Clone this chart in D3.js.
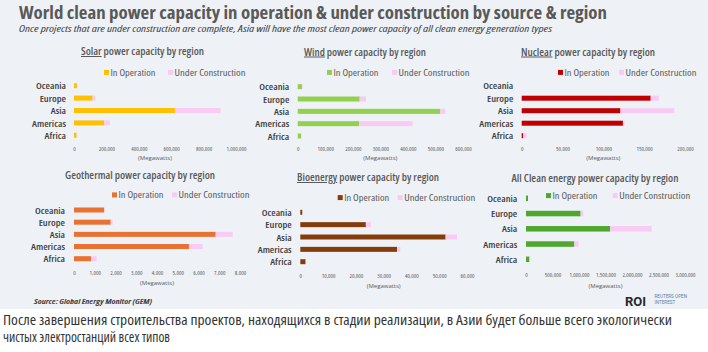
<!DOCTYPE html>
<html><head><meta charset="utf-8">
<script src="https://cdn.jsdelivr.net/npm/d3@7"></script>
<style>
body{margin:0;background:#fff}
svg{display:block}
</style>
</head><body><svg id="c" width="708" height="352"></svg>
<script>
// ---------- DATA ----------
const regions = ["Oceania", "Europe", "Asia", "Americas", "Africa"];
const seriesNames = ["In Operation", "Under Construction"];

const solarOperating      = [18000, 115000, 623000, 187000, 16000];
const solarConstruction   = [1000, 17000, 282000, 35000, 2000];
const windOperating       = [15500, 225000, 517000, 223000, 12000];
const windConstruction    = [2000, 23000, 19000, 194000, 2000];
const nuclearOperating    = [0, 158000, 121000, 124000, 1900];
const nuclearConstruction = [0, 10000, 66000, 2000, 4400];
const geoOperating        = [1450, 1770, 6830, 5540, 820];
const geoConstruction     = [30, 95, 820, 660, 270];
const bioOperating        = [700, 23600, 52300, 34800, 1900];
const bioConstruction     = [0, 1800, 4100, 1200, 100];
const allOperating        = [38000, 1031000, 1585000, 912000, 63000];
const allConstruction     = [0, 51000, 786000, 82000, 5000];

const solarTicks   = [0, 200000, 400000, 600000, 800000, 1000000];
const windTicks    = [0, 100000, 200000, 300000, 400000, 500000, 600000];
const nuclearTicks = [0, 50000, 100000, 150000, 200000];
const geoTicks     = [0, 1000, 2000, 3000, 4000, 5000, 6000, 7000, 8000];
const bioTicks     = [0, 10000, 20000, 30000, 40000, 50000, 60000];
const allTicks     = [0, 500000, 1000000, 1500000, 2000000, 2500000, 3000000];

const panelTitleLead = ["Solar", "Wind", "Nuclear", "Geothermal", "Bioenergy", "All Clean energy"];
const panelTitleRest = " power capacity by region";
const unitLabel = "(Megawatts)";

const mainTitle = "World clean power capacity in operation & under construction by source & region";
const subTitle = "Once projects that are under construction are complete, Asia will have the most clean power capacity of all clean energy generation types";
const sourceText = "Source:  Global Energy Monitor (GEM)";
const captionLines = ["После завершения строительства проектов, находящихся в стадии реализации, в Азии будет больше всего экологически",
                      "чистых электростанций всех типов"];

// ---------- STYLE / LAYOUT ----------
const pink = "#f9cbf4";
const panels = [
  {op: solarOperating, uc: solarConstruction, ticks: solarTicks, color: "#ffc000", underline: true},
  {op: windOperating, uc: windConstruction, ticks: windTicks, color: "#92d050", underline: true},
  {op: nuclearOperating, uc: nuclearConstruction, ticks: nuclearTicks, color: "#c00000", underline: true},
  {op: geoOperating, uc: geoConstruction, ticks: geoTicks, color: "#e97132", underline: false},
  {op: bioOperating, uc: bioConstruction, ticks: bioTicks, color: "#843c0c", underline: true},
  {op: allOperating, uc: allConstruction, ticks: allTicks, color: "#4ea72e", underline: false}
];
const layout = [
  {x0:74, x1:236, yc0:85.7, yc4:135.3, lx:66, tx:142.5, ty:55, tw:123, legY:72.5, leg1:104, leg2:168, tickY:148.5, unitY:157.5, bh:5},
  {x0:297.7, x1:463, yc0:86.7, yc4:136, lx:289.3, tx:365, ty:55.5, tw:122, legY:72.5, leg1:327, leg2:392, tickY:149, unitY:158, bh:5},
  {x0:521.7, x1:685, yc0:85.7, yc4:135.7, lx:513.3, tx:588, ty:55.5, tw:134, legY:72.5, leg1:558, leg2:619, tickY:149, unitY:158, bh:5},
  {x0:74, x1:240, yc0:210, yc4:258.7, lx:65, tx:140, ty:179, tw:150, legY:195, leg1:112, leg2:172, tickY:272.5, unitY:283, bh:5},
  {x0:300.3, x1:467, yc0:212.3, yc4:261.7, lx:291.7, tx:368, ty:181, tw:142, legY:197.7, leg1:337.7, leg2:397.7, tickY:276, unitY:285.5, bh:5},
  {x0:526, x1:685, yc0:198.3, yc4:259.3, lx:517.3, tx:595, ty:181.5, tw:167, legY:195.7, leg1:546, leg2:612.7, tickY:275, unitY:285.5, bh:5.5}
];

const svg = d3.select("#c");

function measure(family, stretch, size, weight, str){
  const t = svg.append("text").attr("font-size", size).attr("font-weight", weight || 400)
    .style("font-family", family).style("font-stretch", stretch).text(str);
  const w = t.node().getComputedTextLength(); t.remove(); return w;
}
const narrowOK = measure("'Open Sans'", "75%", 20, 400, "Americas power capacity by region")
  < 0.92 * measure("'Open Sans'", "100%", 20, 400, "Americas power capacity by region");
const FAM = narrowOK ? "'Open Sans', Roboto, sans-serif" : "Roboto, sans-serif";
const NARROW = narrowOK ? "75%" : "100%";

// category labels: 8.6px, widened so that "Americas" is ~34px wide
const CAT_SIZE = 8.6;
const catScale = 34 / measure(FAM, NARROW, CAT_SIZE, 600, "Americas");

function txt(parent, stretch){
  return parent.append("text").style("font-family", FAM).style("font-stretch", stretch || NARROW);
}
function fitSize(sel, w, maxSize){
  const n = sel.node().getComputedTextLength();
  const fs = +sel.attr("font-size");
  let nfs = fs * w / n;
  if (maxSize) nfs = Math.min(nfs, maxSize);
  sel.attr("font-size", nfs);
  const n2 = sel.node().getComputedTextLength();
  if (Math.abs(n2 - w) > 1.5) sel.attr("textLength", w).attr("lengthAdjust", "spacingAndGlyphs");
  return sel;
}
function fitLen(sel, w){ sel.attr("textLength", w).attr("lengthAdjust", "spacingAndGlyphs"); return sel; }

svg.append("rect").attr("x",0).attr("y",0).attr("width",708).attr("height",309).attr("fill","#eef2f6");

fitLen(txt(svg).attr("x",19).attr("y",19).attr("font-size",17).attr("font-weight",700)
  .attr("fill","#595959").text(mainTitle), 588);
fitLen(txt(svg).attr("x",19).attr("y",31.5).attr("font-size",8.3).attr("font-style","italic")
  .attr("fill","#404040").text(subTitle), 533);

panels.forEach((p, i) => {
  const L = layout[i];
  const g = svg.append("g");
  const x = d3.scaleLinear().domain([0, d3.max(p.ticks)]).range([L.x0, L.x1]);
  const y = d3.scalePoint().domain(regions).range([L.yc0, L.yc4]);
  const rows = regions.map((r, j) => ({r, op: p.op[j], uc: p.uc[j]}));

  // title
  const t = txt(g).attr("x", L.tx).attr("y", L.ty).attr("text-anchor","middle")
    .attr("font-size", 10).attr("font-weight", 600).attr("fill","#595959");
  t.append("tspan").text(panelTitleLead[i]).style("text-decoration", p.underline ? "underline" : null);
  t.append("tspan").text(panelTitleRest);
  fitLen(t, L.tw);

  // legend
  [[L.leg1, p.color, 45], [L.leg2, pink, 71]].forEach(([lx, c, w], k) => {
    g.append("rect").attr("x", lx).attr("y", L.legY - 2.6).attr("width", 5).attr("height", 5).attr("fill", c);
    fitLen(txt(g).attr("x", lx + 6.5).attr("y", L.legY).attr("dy","0.36em").attr("font-size", 8.8)
      .attr("font-weight", 500).attr("fill","#595959").text(seriesNames[k]), w);
  });

  // bars
  g.selectAll("rect.op").data(rows).join("rect").attr("class","op")
    .attr("x", x(0)).attr("y", d => y(d.r) - L.bh/2)
    .attr("width", d => x(d.op) - x(0)).attr("height", L.bh).attr("fill", p.color);
  g.selectAll("rect.uc").data(rows).join("rect").attr("class","uc")
    .attr("x", d => x(d.op)).attr("y", d => y(d.r) - L.bh/2)
    .attr("width", d => x(d.op + d.uc) - x(d.op)).attr("height", L.bh).attr("fill", pink);

  // x axis
  const xa = g.append("g").attr("transform", `translate(0,${L.tickY})`)
    .call(d3.axisBottom(x).tickValues(p.ticks).tickFormat(d3.format(",")).tickSize(0).tickPadding(0));
  xa.select(".domain").remove();
  xa.selectAll("text").attr("dy","0.35em").attr("y",0).attr("font-size",5.9).attr("fill","#595959")
    .style("font-family", FAM).style("font-stretch", NARROW);

  // y axis
  const ya = g.append("g").attr("transform", `translate(${L.x0},0)`)
    .call(d3.axisLeft(y).tickSize(0).tickPadding(L.x0 - L.lx));
  ya.select(".domain").remove();
  ya.selectAll("text").attr("font-size", CAT_SIZE).attr("font-weight", 600).attr("fill","#404040")
    .attr("dy","0.36em").style("font-family", FAM).style("font-stretch", NARROW)
    .each(function(){ const n = this.getComputedTextLength();
      d3.select(this).attr("textLength", n * catScale).attr("lengthAdjust","spacingAndGlyphs"); });

  txt(g, "100%").attr("x", (L.x0 + L.x1)/2).attr("y", L.unitY).attr("dy","0.35em")
    .attr("text-anchor","middle").attr("font-size",6).attr("fill","#595959").text(unitLabel);
});

// footer
fitLen(txt(svg).attr("x",34).attr("y",304).attr("font-size",7).attr("font-weight",700)
  .attr("font-style","italic").attr("fill","#404040").text(sourceText), 118);
svg.append("text").attr("x",625).attr("y",306).attr("font-size",13).attr("font-weight","bold")
  .attr("fill","#262626").attr("font-family","Roboto, sans-serif").text("ROI");
svg.append("text").attr("x",654.5).attr("y",298).attr("font-size",4.6).attr("fill","#5b7fa8")
  .attr("font-family","Roboto, sans-serif").text("REUTERS OPEN");
svg.append("text").attr("x",654.5).attr("y",304).attr("font-size",4.6).attr("fill","#5b7fa8")
  .attr("font-family","Roboto, sans-serif").text("INTEREST");

// caption
const cap0 = fitSize(txt(svg, "87.5%").attr("x",3).attr("y",325).attr("font-size",13).attr("fill","#333")
  .text(captionLines[0]), 669, 13.5);
txt(svg, "87.5%").attr("x",3).attr("y",342).attr("font-size", cap0.attr("font-size")).attr("fill","#333")
  .text(captionLines[1]);
</script>
</body></html>
